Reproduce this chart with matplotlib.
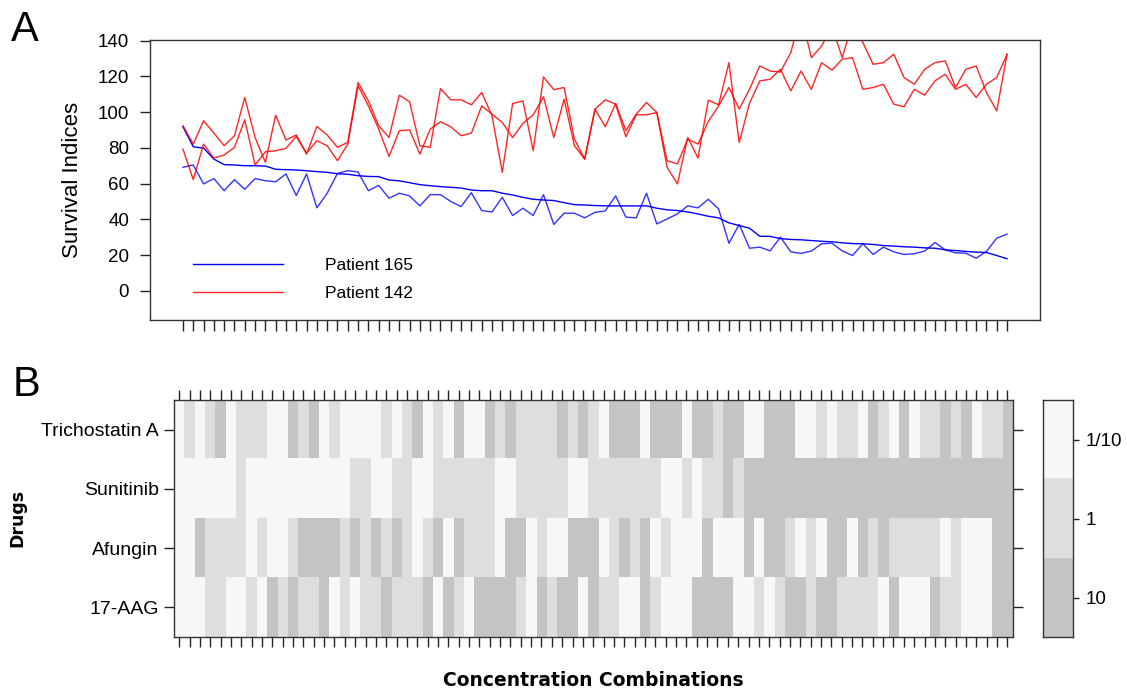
import numpy as np
import matplotlib.pyplot as plt
from matplotlib.colors import ListedColormap

plt.rcParams['font.family'] = ['Liberation Sans', 'DejaVu Sans']

# --- panel A: survival indices for 81 concentration combinations ---
p165_sorted = [91.8, 80.6, 79.9, 73.7, 70.6, 70.4, 70.0, 70.0, 69.8, 68.0,
               67.8, 67.6, 67.2, 66.7, 66.3, 65.5, 65.2, 64.4, 64.0, 63.9,
               62.0, 61.5, 60.5, 59.4, 58.8, 58.3, 57.9, 57.5, 56.4, 56.0,
               56.0, 54.6, 53.6, 52.3, 51.2, 50.8, 50.5, 49.3, 48.2, 48.0,
               47.7, 47.5, 47.5, 47.5, 47.5, 47.5, 46.2, 45.3, 44.9, 44.1,
               43.0, 41.7, 40.8, 38.0, 36.5, 35.0, 30.5, 30.4, 29.2, 28.7,
               28.5, 28.1, 27.7, 27.4, 26.8, 26.4, 26.3, 25.9, 25.3, 25.0,
               24.6, 24.4, 24.0, 23.8, 22.9, 22.5, 22.0, 21.6, 21.4, 19.7,
               17.9]
p165_raw = [69.1, 70.4, 59.8, 62.8, 56.0, 62.2, 56.8, 62.8, 61.6, 61.0,
            65.4, 53.3, 65.4, 46.4, 54.6, 65.7, 67.2, 66.5, 56.0, 59.0,
            51.8, 54.6, 53.1, 47.5, 53.8, 53.8, 50.0, 47.1, 54.9, 44.9,
            44.1, 52.3, 42.1, 46.2, 42.1, 53.8, 37.1, 43.4, 43.4, 40.8,
            43.9, 44.7, 53.1, 41.2, 40.8, 54.6, 37.4, 40.2, 43.0, 47.5,
            46.4, 51.2, 45.8, 26.6, 37.1, 23.8, 24.4, 22.3, 30.0, 21.8,
            20.9, 22.2, 26.3, 26.6, 22.3, 19.7, 26.3, 20.3, 24.4, 21.8,
            20.3, 20.7, 22.2, 27.0, 22.9, 21.2, 21.0, 18.2, 22.0, 29.4,
            31.7]
p142_a = [92.4, 82.1, 95.2, 88.3, 81.2, 86.8, 108.2, 85.8, 71.9, 98.3,
          84.4, 87.2, 76.5, 92.0, 87.2, 80.3, 83.1, 116.6, 106.3, 92.4,
          85.8, 109.5, 105.8, 81.2, 80.3, 113.2, 106.9, 106.9, 104.1, 111.0,
          98.0, 66.3, 104.8, 106.3, 78.4, 119.7, 112.6, 113.8, 84.9, 73.7,
          101.7, 91.8, 104.8, 89.6, 98.9, 105.4, 99.8, 69.1, 59.8, 85.8,
          74.3, 106.7, 104.1, 127.7, 83.0, 105.0, 117.5, 118.4, 124.0, 111.9,
          123.0, 112.8, 127.7, 123.5, 129.6, 130.5, 112.8, 113.8, 115.6, 104.5,
          103.0, 112.8, 109.5, 117.5, 121.2, 112.8, 115.6, 108.2, 115.6, 119.4,
          132.4]
p142_b = [79.3, 62.2, 82.1, 74.3, 76.0, 80.3, 95.7, 70.4, 77.8, 78.4,
          79.7, 86.4, 77.1, 84.0, 81.2, 72.8, 82.1, 114.7, 103.5, 90.5,
          75.2, 89.6, 90.1, 76.5, 90.5, 94.6, 91.8, 86.8, 88.3, 103.5,
          98.9, 94.2, 85.8, 93.7, 98.5, 108.6, 85.8, 107.3, 81.2, 73.7,
          101.7, 106.9, 104.5, 86.2, 98.5, 98.5, 99.8, 72.8, 71.0, 84.9,
          82.1, 94.8, 103.5, 113.8, 101.7, 112.8, 125.9, 123.0, 122.5, 133.3,
          155.0, 130.5, 137.0, 148.0, 130.5, 150.0, 139.0, 126.8, 127.7, 132.4,
          119.4, 115.6, 124.0, 127.7, 128.7, 113.8, 124.0, 125.9, 111.0, 100.7,
          132.4]
y_ticks = [0, 20, 40, 60, 80, 100, 120, 140]

# --- panel B: concentration level of each drug per combination ---
drugs = ["Trichostatin A", "Sunitinib", "Afungin", "17-AAG"]
conc_levels = ["1/10", "1", "10"]
level_codes = "LMD"   # L = 1/10, M = 1, D = 10
trichostatin = ("LMLMDLMMML" "LDMDLMLLLL" "MLMDLMLDLL" "DMDMMMMDMD" "MLDDDLDDDL"
                "DDMDDLLDDD" "LLMLMMLDML" "DLMMDMDLMM" "D")
sunitinib = ("LLLLLLMLLL" "LLLLLLLMML" "LMMLLMMMMM" "MLLMMMMMLL" "MMMMMMMLLM"
             "LMMDMDDDDD" "DDDDDDDDDD" "DDDDDDDDDD" "D")
afungin = ("LLDMMMMLML" "LMDDDDMDMD" "MDMLMDLDMM" "MLDDLMLLDD" "DLMDMDLMLL"
           "LDLLLDLDDM" "LMLDDLDMDM" "MMMMLMLLLD" "D")
aag17 = ("LLLMMLLMLD" "MDMMDLMLMM" "DMMMDLDMLD" "DDDMLDMDDL" "DMMLLDMLLL"
         "DDDDLLMLMD" "DMDDMMMMLD" "LLLDMMLLLD" "D")
conc_colors = ["#f7f7f7", "#dedede", "#c4c4c4"]

W, H = 1127, 693
fig = plt.figure(figsize=(W / 100, H / 100), dpi=100)

def frac(left, top, right, bottom):
    return [left / W, 1 - bottom / H, (right - left) / W, (bottom - top) / H]

# panel A
ax1 = fig.add_axes(frac(150, 40, 1040, 320))
x = np.arange(1, len(p165_sorted) + 1)
ax1.plot(x, p165_sorted, color="#0000ff", lw=1.0, label="Patient 165")
ax1.plot(x, p165_raw, color="#0000ff", lw=1.0, alpha=0.8)
ax1.plot(x, p142_a, color="#ff0000", lw=1.0, alpha=0.85, label="Patient 142")
ax1.plot(x, p142_b, color="#ff0000", lw=1.0, alpha=0.85)
n = len(x)
ax1.set_xlim(1 - 0.04 * (n - 1), n + 0.04 * (n - 1))
ax1.set_ylim(-16.4, 140.4)
ax1.set_xticks(x)
ax1.set_xticklabels([])
ax1.set_yticks(y_ticks)
ax1.tick_params(axis="x", length=8, width=1, color="#222222")
ax1.tick_params(axis="y", length=7, width=1, labelsize=13.5, pad=8, color="#222222")
ax1.set_ylabel("Survival Indices", fontsize=16)
ax1.yaxis.set_label_coords(-0.075, 0.5)
for s in ax1.spines.values():
    s.set_linewidth(1.0)
    s.set_color("#333333")
ax1.legend(loc="lower left", bbox_to_anchor=(0.048, 0.068), frameon=False,
           fontsize=12.5, handlelength=5.2, handletextpad=2.4, labelspacing=0.72,
           borderpad=0, borderaxespad=0)

# panel B heatmap
rows = [trichostatin, sunitinib, afungin, aag17]
grid = np.array([[level_codes.index(c) for c in r] for r in rows])
cmap = ListedColormap(conc_colors)
ax2 = fig.add_axes(frac(174, 400, 1012.5, 637))
ax2.imshow(grid, cmap=cmap, vmin=-0.5, vmax=2.5, aspect="auto",
           interpolation="nearest")
ax2.set_xticks(np.arange(grid.shape[1]))
ax2.set_xticklabels([])
ax2.set_yticks(np.arange(len(drugs)))
ax2.set_yticklabels(drugs, fontsize=14)
ax2.tick_params(axis="x", top=True, bottom=True, length=7, width=1, color="#222222")
ax2.tick_params(axis="y", left=True, right=True, length=7, width=1, pad=4, color="#222222")
for s in ax2.spines.values():
    s.set_linewidth(1.0)
    s.set_color("#333333")

# colour key
ax3 = fig.add_axes(frac(1043, 400, 1073, 637))
ax3.imshow(np.arange(len(conc_levels)).reshape(-1, 1), cmap=cmap, vmin=-0.5, vmax=2.5,
           aspect="auto", interpolation="nearest")
ax3.set_xticks([])
ax3.set_yticks(np.arange(len(conc_levels)))
ax3.set_yticklabels(conc_levels, fontsize=13.5)
ax3.yaxis.tick_right()
ax3.tick_params(axis="y", length=4, width=1, pad=5, color="#222222")
for s in ax3.spines.values():
    s.set_linewidth(1.0)
    s.set_color("#333333")

fig.text(593 / W, 1 - 680 / H, "Concentration Combinations", ha="center", va="center",
         fontsize=13.5, fontweight="bold", family="DejaVu Sans")
fig.text(17 / W, 1 - 518 / H, "Drugs", ha="center", va="center", rotation=90,
         fontsize=12.5, fontweight="bold", family="DejaVu Sans")
fig.text(25 / W, 1 - 30 / H, "A", ha="center", va="center", fontsize=30)
fig.text(26 / W, 1 - 385 / H, "B", ha="center", va="center", fontsize=30)

fig.savefig("out.png", dpi=100)
